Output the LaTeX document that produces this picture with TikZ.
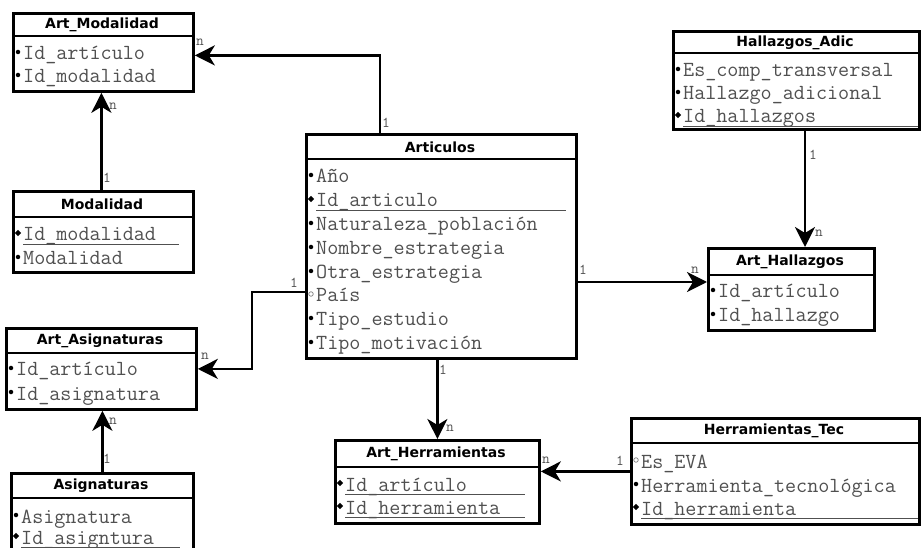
\documentclass[tikz,border=0pt]{standalone}
\usepackage{fontspec}
\setmainfont{DejaVu Sans}
\newfontfamily\titf{DejaVu Sans}
\usetikzlibrary{arrows.meta,calc,shapes.geometric}
\definecolor{txtgray}{RGB}{80,80,80}
\tikzset{
 ebox/.style={draw=black, line width=2.8pt, fill=white, inner sep=0pt, anchor=north west},
 hdr/.style={line width=2.2pt},
 etitle/.style={font=\titf\bfseries\fontsize{14}{16}\selectfont, inner sep=0pt, anchor=center},
 attr/.style={font=\ttfamily\fontsize{21.5}{23}\selectfont, text=txtgray, inner sep=0pt, anchor=base west},
 conn/.style={line width=2.6pt, -{Stealth[length=20pt,width=20pt,inset=6pt]}},
 card/.style={font=\ttfamily\fontsize{15}{15}\selectfont, text=txtgray, inner sep=0pt},
 uline/.style={line width=1.2pt, draw=txtgray},
 dotb/.style={circle, fill=black, inner sep=0pt, minimum size=4.5pt},
 keyb/.style={diamond, fill=black, inner sep=0pt, minimum size=6.5pt},
 optb/.style={circle, draw=gray, line width=0.7pt, inner sep=0pt, minimum size=4.5pt}
}
\newcommand\ent[7]{%
 \node[ebox, minimum width={#4pt-#2pt}, minimum height={#6pt-#3pt}] (#1) at (#2,#3) {};
 \draw[hdr] (#2,#5) -- (#4,#5);
 \node[etitle] (#1t) at ({(#2+#4)/2},{(#3+#5)/2+1}) {#7};
}
\newcommand\att[5]{%
 \node[attr] (#4) at ({#1+11},{#2+5}) {#5};
 \node[#3] (#4b) at ({#1+6},{#2-3}) {};
}
\newcommand\ul[2]{\draw[uline] let \p1=(#1.base west) in (\x1,\y1-3.5pt) -- (#2pt,\y1-3.5pt);}
\begin{document}
\begin{tikzpicture}[x=1pt,y=-1pt]
\useasboundingbox (0,0) rectangle (922,548);
% Art_Modalidad
\ent{am}{12}{12}{192}{36}{90}{Art\_Modalidad}
\att{12}{55}{dotb}{am1}{Id\_artículo}
\att{12}{78}{dotb}{am2}{Id\_modalidad}
% Modalidad
\ent{mo}{12}{190}{192}{217}{271}{Modalidad}
\att{12}{236}{keyb}{mo1}{Id\_modalidad}\ul{mo1}{179}
\att{12}{260}{dotb}{mo2}{Modalidad}
% Art_Asignaturas
\ent{aas}{5}{327}{195}{353}{408}{Art\_Asignaturas}
\att{5}{371}{dotb}{aas1}{Id\_artículo}
\att{5}{395}{dotb}{aas2}{Id\_asignatura}
% Asignaturas
\ent{asi}{10}{472}{192}{498}{562}{Asignaturas}
\att{10}{518}{dotb}{asi1}{Asignatura}
\att{10}{539}{keyb}{asi2}{Id\_asigntura}\ul{asi2}{180}
% Articulos
\ent{art}{305}{133}{575}{159}{357}{Articulos}
\att{305}{178}{dotb}{art1}{Año}
\att{305}{202}{keyb}{art2}{Id\_articulo}\ul{art2}{566}
\att{305}{226}{dotb}{art3}{Naturaleza\_población}
\att{305}{250}{dotb}{art4}{Nombre\_estrategia}
\att{305}{274}{dotb}{art5}{Otra\_estrategia}
\att{305}{297}{optb}{art6}{País}
\att{305}{321}{dotb}{art7}{Tipo\_estudio}
\att{305}{345}{dotb}{art8}{Tipo\_motivación}
% Hallazgos_Adic
\ent{ha}{672}{30}{918}{53}{128}{Hallazgos\_Adic}
\att{672}{72}{dotb}{ha1}{Es\_comp\_transversal}
\att{672}{95}{dotb}{ha2}{Hallazgo\_adicional}
\att{672}{118}{keyb}{ha3}{Id\_hallazgos}\ul{ha3}{918}
% Art_Hallazgos
\ent{ah}{707}{247}{873}{275}{329}{Art\_Hallazgos}
\att{707}{293}{dotb}{ah1}{Id\_artículo}
\att{707}{317}{dotb}{ah2}{Id\_hallazgo}
% Art_Herramientas
\ent{aher}{334}{439}{538}{467}{522}{Art\_Herramientas}
\att{334}{486}{keyb}{aher1}{Id\_artículo}\ul{aher1}{525}
\att{334}{509}{keyb}{aher2}{Id\_herramienta}\ul{aher2}{525}
% Herramientas_Tec
\ent{ht}{630}{417}{918}{443}{523}{Herramientas\_Tec}
\att{630}{463}{optb}{ht1}{Es\_EVA}
\att{630}{487}{dotb}{ht2}{Herramienta\_tecnológica}
\att{630}{510}{keyb}{ht3}{Id\_herramienta}\ul{ht3}{918}
% connectors
\draw[conn] ([xshift=75pt]art.north west) |- ([yshift=-3pt]am.east);
\draw[conn] ([xshift=-2pt]mo.north) -- ([xshift=-2pt]am.south);
\coordinate (b3) at (252,292);
\draw[conn] (art.west |- b3) -- (b3) |- (aas.east);
\draw[conn] (asi.north) -- (asi.north |- aas.south);
\coordinate (c5) at (640,282);
\draw[conn] (art.east |- c5) -- (ah.west |- c5);
\coordinate (c6) at (805,200);
\draw[conn] (ha.south -| c6) -- (ah.north -| c6);
\draw[conn] (aher.north |- art.south) -- (aher.north);
\draw[conn] (ht.west) -- (aher.east |- ht.west);
% cardinalities
\node[card] (k1a) at (386,123) {1};
\node[card] (k1b) at (200,42) {n};
\node[card] (k2a) at (107,178) {1};
\node[card] (k2b) at (113,106) {n};
\node[card] (k3a) at (294,283) {1};
\node[card] (k3b) at (205,356) {n};
\node[card] (k4a) at (107,459) {1};
\node[card] (k4b) at (113,421) {n};
\node[card] (k5a) at (583,270) {1};
\node[card] (k5b) at (695,270) {n};
\node[card] (k6a) at (813,155) {1};
\node[card] (k6b) at (819,233) {n};
\node[card] (k7a) at (443,370) {1};
\node[card] (k7b) at (450,428) {n};
\node[card] (k8a) at (620,461) {1};
\node[card] (k8b) at (546,460) {n};
\end{tikzpicture}
\end{document}
